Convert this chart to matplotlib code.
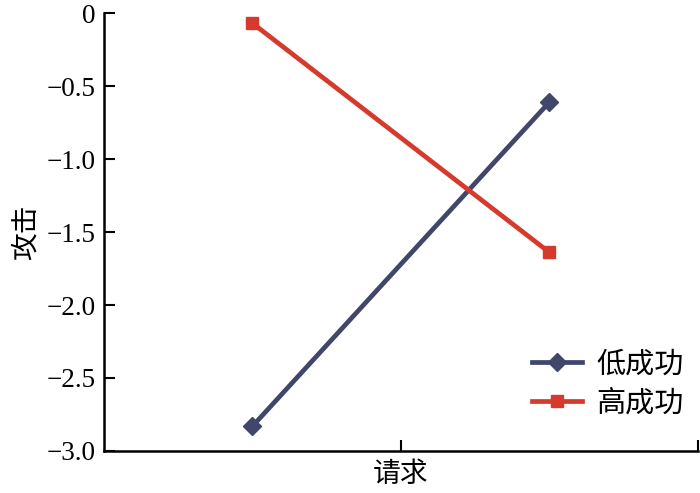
import matplotlib
matplotlib.use("Agg")
import matplotlib.pyplot as plt

# data
conditions = [1, 3]
low_success = [-2.83, -0.61]
high_success = [-0.07, -1.64]
series_names = ["低成功", "高成功"]
x_label = "请求"
y_label = "攻击"
y_ticks = [0, -0.5, -1.0, -1.5, -2.0, -2.5, -3.0]
y_tick_labels = ["0", "\u22120.5", "\u22121.0", "\u22121.5", "\u22122.0", "\u22122.5", "\u22123.0"]

plt.rcParams["font.family"] = ["Liberation Serif", "Noto Sans CJK SC", "DejaVu Sans"]

fig = plt.figure(figsize=(7, 4.93), dpi=100)
ax = fig.add_axes([0.1486, 0.0852, 0.8484, 0.8884])

ax.plot(conditions, low_success, color="#41466b", lw=3.4, marker="D",
        markersize=9, label=series_names[0], clip_on=False)
ax.plot(conditions, high_success, color="#d63a2d", lw=3.4, marker="s",
        markersize=9, label=series_names[1], clip_on=False)

ax.set_xlim(0.0, 4.0)
ax.set_ylim(-3.0, 0)
ax.set_yticks(y_ticks)
ax.set_yticklabels(y_tick_labels, fontsize=19.5)
ax.set_xticks([2, 4])
ax.set_xticklabels([x_label, ""], fontsize=20, family=["Noto Sans CJK SC"])
ax.set_ylabel(y_label, fontsize=20, family=["Noto Sans CJK SC"], labelpad=4)

ax.tick_params(direction="in", length=8, width=1.5, pad=6)
for side in ["top", "right"]:
    ax.spines[side].set_visible(False)
for side in ["left", "bottom"]:
    ax.spines[side].set_linewidth(1.8)

leg = ax.legend(loc="lower right", bbox_to_anchor=(1.02, 0.015), frameon=False,
                prop={"family": "Noto Sans CJK SC", "size": 21},
                handlelength=1.7, labelspacing=0.3, handletextpad=0.5)

fig.savefig("out.png", dpi=100)
